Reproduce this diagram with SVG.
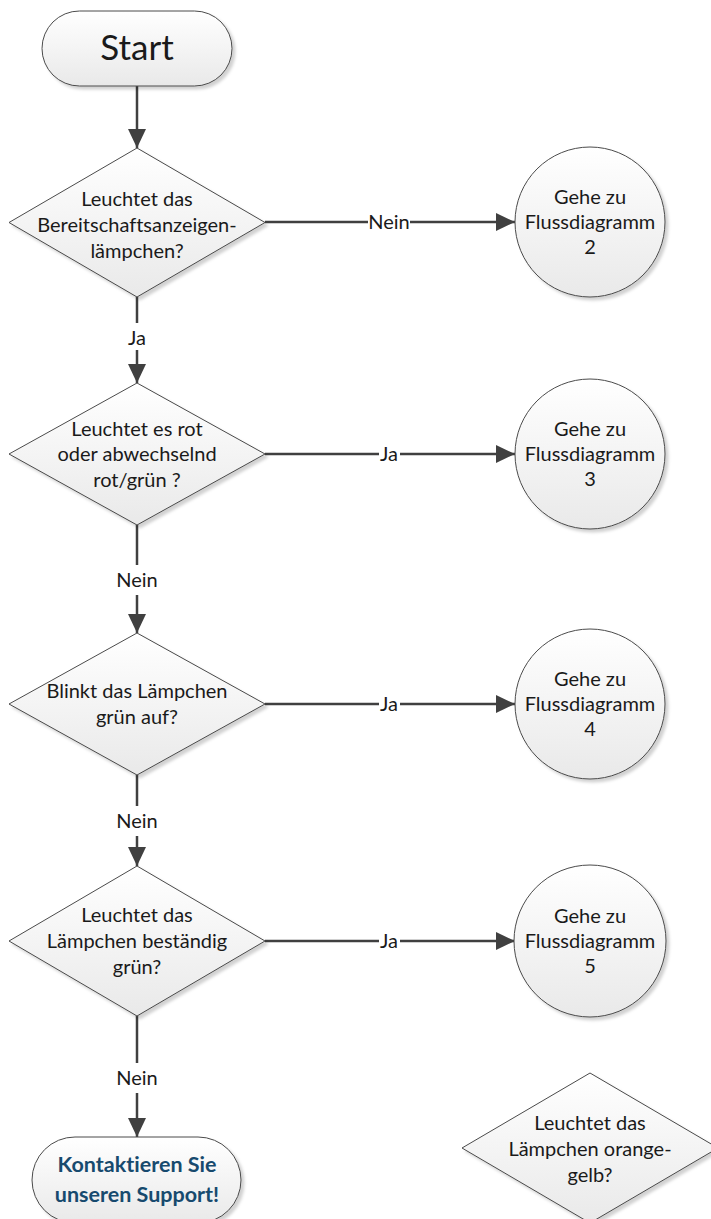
<svg xmlns="http://www.w3.org/2000/svg" width="711" height="1219" viewBox="0 0 711 1219">
<defs>
<linearGradient id="fillGrad" x1="0" y1="0" x2="0" y2="1">
<stop offset="0" stop-color="#ffffff"/>
<stop offset="1" stop-color="#e9e9e9"/>
</linearGradient>
<filter id="shadow" x="-10%" y="-10%" width="130%" height="130%">
<feDropShadow dx="3" dy="3" stdDeviation="1.5" flood-color="#000000" flood-opacity="0.18"/>
</filter>
<marker id="arrow" markerUnits="userSpaceOnUse" markerWidth="19" markerHeight="18" viewBox="0 0 19 18" refX="19" refY="9" orient="auto">
<path d="M0,0 L19,9 L0,18 z" fill="#404040"/>
</marker>
<style>
.shape{fill:url(#fillGrad);stroke:#4a4a4a;stroke-width:1;filter:url(#shadow)}
.t{font-family:Lato,"Liberation Sans",sans-serif;font-size:20px;fill:#1a1a1a;text-anchor:middle;font-variant-ligatures:none}
.big{font-size:35px}
.bold{font-weight:bold;fill:#174a6e;font-size:21.5px}
.conn{fill:none;stroke:#404040;stroke-width:2.5}
.lbl{font-family:Lato,"Liberation Sans",sans-serif;font-size:20px;fill:#1a1a1a;text-anchor:middle}
</style>
</defs>
<rect width="711" height="1219" fill="#ffffff"/>

<g id="connectors">
<path class="conn" d="M137,86 L137,148" marker-end="url(#arrow)"/>
<path class="conn" d="M265,222 L368,222"/>
<path class="conn" d="M410,222 L515,222" marker-end="url(#arrow)"/>
<text class="lbl" x="389" y="229">Nein</text>
<path class="conn" d="M137,297 L137,323"/>
<path class="conn" d="M137,350 L137,383" marker-end="url(#arrow)"/>
<text class="lbl" x="137" y="345">Ja</text>
<path class="conn" d="M265,454 L379,454"/>
<path class="conn" d="M400,454 L515,454" marker-end="url(#arrow)"/>
<text class="lbl" x="389" y="461">Ja</text>
<path class="conn" d="M137,525 L137,565"/>
<path class="conn" d="M137,595 L137,633" marker-end="url(#arrow)"/>
<text class="lbl" x="137" y="587">Nein</text>
<path class="conn" d="M265,704 L379,704"/>
<path class="conn" d="M400,704 L515,704" marker-end="url(#arrow)"/>
<text class="lbl" x="389" y="711">Ja</text>
<path class="conn" d="M137,775 L137,806"/>
<path class="conn" d="M137,836 L137,866" marker-end="url(#arrow)"/>
<text class="lbl" x="137" y="828">Nein</text>
<path class="conn" d="M265,941 L379,941"/>
<path class="conn" d="M400,941 L515,941" marker-end="url(#arrow)"/>
<text class="lbl" x="389" y="948">Ja</text>
<path class="conn" d="M137,1016 L137,1063"/>
<path class="conn" d="M137,1093 L137,1137" marker-end="url(#arrow)"/>
<text class="lbl" x="137" y="1085">Nein</text>
</g>

<g id="start">
<rect class="shape" x="42" y="11" width="190" height="75" rx="37.5" ry="37.5"/>
<text class="t big" x="137" y="60">Start</text>
</g>

<g id="d1">
<polygon class="shape" points="137,148 265,222.5 137,297 9,222.5"/>
<text class="t" x="137" y="206">Leuchtet das</text>
<text class="t" x="137" y="232">Bereitschaftsanzeigen-</text>
<text class="t" x="137" y="258">lämpchen?</text>
</g>

<g id="c2">
<circle class="shape" cx="590" cy="222" r="75"/>
<text class="t" x="590" y="204">Gehe zu</text>
<text class="t" x="590" y="229">Flussdiagramm</text>
<text class="t" x="590" y="254">2</text>
</g>

<g id="d2">
<polygon class="shape" points="137,383 265,454 137,525 9,454"/>
<text class="t" x="137" y="436">Leuchtet es rot</text>
<text class="t" x="137" y="461">oder abwechselnd</text>
<text class="t" x="137" y="487">rot/grün ?</text>
</g>

<g id="c3">
<circle class="shape" cx="590" cy="454" r="75"/>
<text class="t" x="590" y="436">Gehe zu</text>
<text class="t" x="590" y="461">Flussdiagramm</text>
<text class="t" x="590" y="486">3</text>
</g>

<g id="d3">
<polygon class="shape" points="137,633 265,704 137,775 9,704"/>
<text class="t" x="137" y="698">Blinkt das Lämpchen</text>
<text class="t" x="137" y="724">grün auf?</text>
</g>

<g id="c4">
<circle class="shape" cx="590" cy="704" r="75"/>
<text class="t" x="590" y="686">Gehe zu</text>
<text class="t" x="590" y="711">Flussdiagramm</text>
<text class="t" x="590" y="736">4</text>
</g>

<g id="d4">
<polygon class="shape" points="137,866 265,941 137,1016 9,941"/>
<text class="t" x="137" y="922">Leuchtet das</text>
<text class="t" x="137" y="948">Lämpchen beständig</text>
<text class="t" x="137" y="974">grün?</text>
</g>

<g id="c5">
<circle class="shape" cx="590" cy="941" r="76"/>
<text class="t" x="590" y="923">Gehe zu</text>
<text class="t" x="590" y="948">Flussdiagramm</text>
<text class="t" x="590" y="973">5</text>
</g>

<g id="end">
<rect class="shape" x="32" y="1137" width="209" height="86" rx="43" ry="43"/>
<text class="t bold" x="137" y="1172">Kontaktieren Sie</text>
<text class="t bold" x="137" y="1202">unseren Support!</text>
</g>

<g id="d5">
<polygon class="shape" points="590,1073 718,1148 590,1223 462,1148"/>
<text class="t" x="590" y="1130">Leuchtet das</text>
<text class="t" x="590" y="1156">Lämpchen orange-</text>
<text class="t" x="590" y="1182">gelb?</text>
</g>
</svg>
